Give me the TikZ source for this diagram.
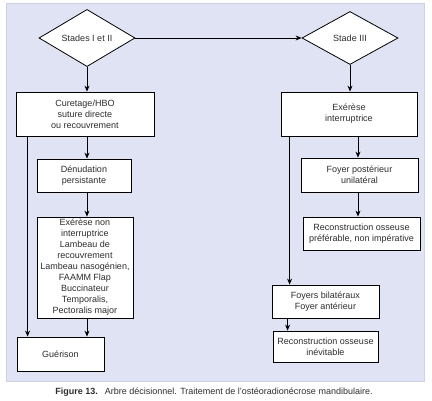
\documentclass[tikz,border=0pt]{standalone}
\usepackage{fontspec}
\setmainfont{Liberation Sans}
\usepackage{tikz}
\usetikzlibrary{arrows.meta,positioning,shapes.geometric}

\definecolor{panelblue}{RGB}{223,227,243}
\definecolor{panelline}{RGB}{205,210,228}
\definecolor{textgray}{RGB}{45,45,45}

\begin{document}
\begin{tikzpicture}[
    x=1pt, y=-1pt,
    box/.style={draw, fill=white, align=center, inner sep=1pt, line width=0.8pt, text=textgray, font=\fontsize{9}{11}\selectfont},
    decision/.style={draw, fill=white, diamond, align=center, inner sep=0pt, line width=0.8pt, text=textgray, font=\fontsize{9}{11}\selectfont, minimum width=96pt, minimum height=53pt},
    arrow/.style={-{Stealth[length=6pt,width=5pt]}, line width=0.8pt}
  ]
    \useasboundingbox (0,0) rectangle (432,401);
    \fill[panelblue, draw=panelline] (6,3) rectangle (424,381);

    \node[decision] (stade12) at (87,38)  {Stades I et II};
    \node[decision] (stade3)  at (350,38) {Stade III};

    % gauche
    \node[box, minimum width=138pt, minimum height=44pt] (cur) at (85,114)    {Curetage/HBO\\suture directe\\ou recouvrement};
    \node[box, minimum width=94pt, minimum height=33pt]  (den) at (84,175.5)  {Dénudation\\persistante};
    \node[box, minimum width=96pt, minimum height=101pt] (exn) at (85,267.5)  {Exérèse non\\interruptrice\\Lambeau de\\recouvrement\\Lambeau nasogénien,\\FAAMM Flap\\Buccinateur\\Temporalis,\\Pectoralis major};
    \node[box, minimum width=87pt, minimum height=34pt]  (gue) at (60.5,354)  {Guérison};

    % droite
    \node[box, minimum width=136pt, minimum height=44pt] (exi)     at (349,114)     {Exérèse\\interruptrice};
    \node[box, minimum width=117pt, minimum height=34pt] (fp)      at (359.5,175)   {Foyer postérieur\\unilatéral};
    \node[box, minimum width=117pt, minimum height=33pt] (recpref) at (361.5,233.5) {Reconstruction osseuse\\préférable, non impérative};
    \node[box, minimum width=107pt, minimum height=33pt] (foy)     at (325.5,301.5) {Foyers bilatéraux\\Foyer antérieur};
    \node[box, minimum width=105pt, minimum height=31pt] (recinev) at (325.5,346.5) {Reconstruction osseuse\\inévitable};

    \node[text=textgray, font=\fontsize{9}{11}\selectfont] (legende) at (214,392) {\textbf{Figure 13.}\hspace{7pt}Arbre décisionnel. Traitement de l'ostéoradionécrose mandibulaire.};

    \draw[arrow] (stade12) -- (stade3);
    \draw[arrow] (stade12.south) -- (stade12.south |- cur.north);
    \draw[arrow] (cur.south -| stade12.south) -- (stade12.south |- den.north);
    \draw[arrow] (den.south -| stade12.south) -- (stade12.south |- exn.north);
    \draw[arrow] (exn.south -| stade12.south) -- (stade12.south |- gue.north);
    \draw[arrow] ([xshift=12pt]cur.south west) -- ([xshift=11pt]gue.north west);

    \draw[arrow] (stade3.south) -- (stade3.south |- exi.north);
    \draw[arrow] ([xshift=9pt]exi.south) -- ([xshift=-1.5pt]fp.north);
    \draw[arrow] ([xshift=-1.5pt]fp.south) -- ([xshift=-3.5pt]recpref.north);
    \draw[arrow] ([xshift=9pt]exi.south west) -- ([xshift=18pt]foy.north west);
    \draw[arrow] ([xshift=16pt]foy.south west) -- ([xshift=15pt]recinev.north west);
  \end{tikzpicture}
\end{document}
